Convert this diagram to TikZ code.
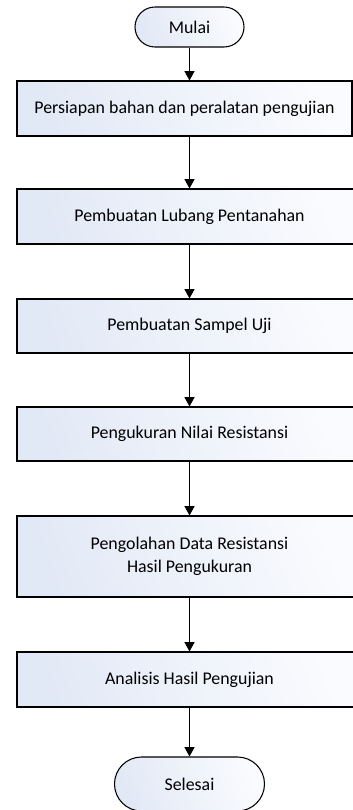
\documentclass[tikz,border=0pt]{standalone}
\usepackage{fontspec}
\setmainfont{Carlito}
\usetikzlibrary{arrows.meta,shapes.misc}
\definecolor{fillA}{HTML}{E2E9F6}
\definecolor{fillB}{HTML}{FAFBFE}
\tikzset{
  px/.style={x=0.75pt,y=-0.75pt},
  procbox/.style={rectangle,draw=black,line width=0.8pt,inner sep=0pt,
    left color=fillA,right color=fillB,shading angle=110,
    font=\fontsize{13.4}{17}\selectfont,align=center,text=black},
  termbox/.style={rounded rectangle,draw=black,line width=0.8pt,inner sep=0pt,
    left color=fillA,right color=fillB,shading angle=110,
    font=\fontsize{13.4}{17}\selectfont,text=black},
  arr/.style={line width=0.8pt,-{Triangle[length=7pt,width=7.5pt]}}
}
\begin{document}
\begin{tikzpicture}[px]
\useasboundingbox (0,0) rectangle (353,810);
\clip (0,0) rectangle (353,810);
\node[termbox,minimum width=109*0.75pt,minimum height=40*0.75pt] (mulai) at (189.5,27) {Mulai};
\node[procbox,minimum width=335*0.75pt,minimum height=55*0.75pt] (b1) at (184.5,108.5) {Persiapan bahan dan peralatan pengujian};
\node[procbox,minimum width=345*0.75pt,minimum height=55*0.75pt] (b2) at (189.5,216.5) {Pembuatan Lubang Pentanahan};
\node[procbox,minimum width=345*0.75pt,minimum height=54*0.75pt] (b3) at (189.5,326) {Pembuatan Sampel Uji};
\node[procbox,minimum width=345*0.75pt,minimum height=54*0.75pt] (b4) at (189.5,434) {Pengukuran Nilai Resistansi};
\node[procbox,minimum width=345*0.75pt,minimum height=81*0.75pt] (b5) at (189.5,556.5) {Pengolahan Data Resistansi\\Hasil Pengukuran};
\node[procbox,minimum width=345*0.75pt,minimum height=55*0.75pt] (b6) at (189.5,679.5) {Analisis Hasil Pengujian};
\node[termbox,minimum width=150*0.75pt,minimum height=54*0.75pt] (selesai) at (189.5,784) {Selesai};
\draw[arr] (mulai.south) -- (mulai.south |- b1.north);
\draw[arr] (b1.south -| b2.north) -- (b2.north);
\draw[arr] (b2.south) -- (b3.north);
\draw[arr] (b3.south) -- (b4.north);
\draw[arr] (b4.south) -- (b5.north);
\draw[arr] (b5.south) -- (b6.north);
\draw[arr] (b6.south) -- (selesai.north);
\end{tikzpicture}
\end{document}
